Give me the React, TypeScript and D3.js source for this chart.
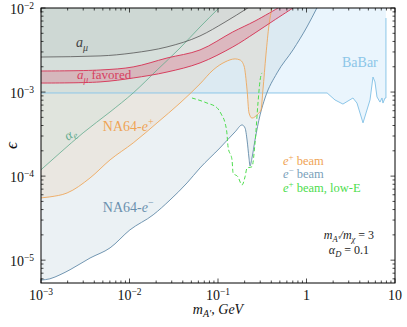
import * as d3 from "d3";

type Pt = [number, number];

// curves as [m_A' (GeV), epsilon]
const babar: Pt[] = [
  [1e-3, 9.75e-4], [1.71, 9.75e-4], [2.1, 8.05e-4], [2.58, 7.2e-4], [3.35, 8.5e-4],
  [3.72, 7.4e-4], [4.35, 4.3e-4], [5.22, 8.05e-4], [5.64, 1.51e-3], [5.94, 1.32e-3],
  [6.26, 8.75e-4], [6.77, 7.6e-4], [7.13, 8.5e-4], [7.31, 7.4e-4], [7.71, 8.5e-4],
  [7.9, 8.5e-4], [7.9, 7.6e-3],
];
const na64Electron: Pt[] = [
  [1e-3, 5.8e-6], [1.26e-3, 6.0e-6], [1.64e-3, 6.7e-6], [2.13e-3, 7.7e-6], [3.58e-3, 1.06e-5],
  [6.03e-3, 1.4e-5], [1.01e-2, 2.29e-5], [1.85e-2, 3.46e-5], [2.87e-2, 5.2e-5], [4.47e-2, 8.3e-5],
  [6.26e-2, 1.25e-4], [0.105, 2.16e-4], [0.156, 3.36e-4], [0.187, 4.06e-4], [0.202, 3.74e-4],
  [0.213, 2.69e-4], [0.224, 1.64e-4], [0.23, 1.32e-4], [0.242, 1.64e-4], [0.262, 2.69e-4],
  [0.299, 5.35e-4], [0.34, 8.5e-4], [0.465, 1.69e-3], [0.703, 3.17e-3], [1.01, 5.94e-3], [1.31, 1e-2],
];
const na64Positron: Pt[] = [
  [1e-3, 5.5e-5], [1.26e-3, 5.66e-5], [1.97e-3, 6.3e-5], [3.58e-3, 9.5e-5], [6.03e-3, 1.56e-4],
  [1.1e-2, 2.48e-4], [2.05e-2, 4.3e-4], [3.72e-2, 7.4e-4], [6.26e-2, 1.25e-3], [8.8e-2, 1.83e-3],
  [0.12, 2.28e-3], [0.156, 2.48e-3], [0.177, 2.41e-3], [0.197, 2.04e-3], [0.213, 1.06e-3],
  [0.224, 5.65e-4], [0.242, 4.9e-4], [0.283, 5.5e-4], [0.306, 6.1e-4], [0.322, 1.06e-3],
  [0.348, 2.76e-3], [0.377, 6.28e-3], [0.407, 1e-2],
];
const positronLowE: Pt[] = [
  [0.0508, 8.5e-4], [0.0752, 7.4e-4], [0.0975, 6.5e-4], [0.11, 5.35e-4], [0.12, 4.3e-4],
  [0.126, 3.27e-4], [0.13, 2.22e-4], [0.144, 1.56e-4], [0.148, 1.09e-4], [0.168, 9.8e-5],
  [0.187, 7.85e-5], [0.202, 9.8e-5], [0.213, 1.25e-4], [0.242, 1.29e-4], [0.262, 2.48e-4],
  [0.283, 7.4e-4], [0.299, 1.39e-3], [0.314, 1.69e-3],
];
const alphaE: Pt[] = [
  [1e-3, 1.19e-4], [1.64e-3, 1.89e-4], [2.99e-3, 3.27e-4], [6.03e-3, 5.8e-4], [1.1e-2, 9.75e-4],
  [2.05e-2, 1.83e-3], [3.72e-2, 3.34e-3], [6.26e-2, 5.94e-3], [0.1025, 1e-2],
];
const aMu: Pt[] = [
  [1e-3, 2.61e-3], [4.65e-3, 2.69e-3], [1.1e-2, 2.92e-3], [2.65e-2, 3.44e-3], [6.26e-2, 4.65e-3],
  [0.12, 6.8e-3], [0.217, 1e-2],
];
const aMuUpper: Pt[] = [
  [1e-3, 1.78e-3], [4.65e-3, 1.83e-3], [1.1e-2, 1.99e-3], [2.65e-2, 2.54e-3], [6.26e-2, 3.17e-3],
  [0.147, 5.19e-3], [0.262, 7.0e-3], [0.477, 1e-2],
];
const aMuLower: Pt[] = [
  [1e-3, 1.28e-3], [4.65e-3, 1.32e-3], [1.1e-2, 1.47e-3], [2.65e-2, 1.73e-3], [6.26e-2, 2.22e-3],
  [0.147, 3.44e-3], [0.262, 5.05e-3], [0.418, 7.0e-3], [0.703, 1e-2],
];

const xTickLabels = [
  { v: 1e-3, base: "10", exp: "−3" },
  { v: 1e-2, base: "10", exp: "−2" },
  { v: 1e-1, base: "10", exp: "−1" },
  { v: 1, base: "1", exp: "" },
  { v: 10, base: "10", exp: "" },
];
const yTickLabels = [
  { v: 1e-2, exp: "−2" },
  { v: 1e-3, exp: "−3" },
  { v: 1e-4, exp: "−4" },
  { v: 1e-5, exp: "−5" },
];

const W = 407;
const H = 327;
const left = 41, right = 395, top = 8, bottom = 283;
const font = "'Liberation Serif', 'DejaVu Serif', serif";

export default function App() {
  const x = d3.scaleLog().domain([1e-3, 10]).range([left, right]);
  const y = d3.scaleLog().domain([5.35e-6, 1e-2]).range([bottom, top]);

  const line = d3.line<Pt>().x((d) => x(d[0])).y((d) => y(d[1])).curve(d3.curveMonotoneX);
  const lineLin = d3.line<Pt>().x((d) => x(d[0])).y((d) => y(d[1]));
  const above = d3.area<Pt>().x((d) => x(d[0])).y0(top).y1((d) => y(d[1])).curve(d3.curveMonotoneX);
  const aboveLin = d3.area<Pt>().x((d) => x(d[0])).y0(top).y1((d) => y(d[1]));
  const cr = d3.line<Pt>().x((d) => x(d[0])).y((d) => y(d[1])).curve(d3.curveCatmullRom.alpha(0.5));
  const band = cr(aMuUpper) + "L" + (cr([...aMuLower].reverse()) as string).slice(1) + "Z";

  const isMajor = (t: number) => Math.abs(Math.log10(t) - Math.round(Math.log10(t))) < 1e-6;
  const xt = x.ticks();
  const yt = y.ticks();

  const red = "#d6405f";
  const orange = "#efa455";
  const blue = "#5a84a4";
  const sky = "#8cc6e8";
  const teal = "#62ab8d";
  const lime = "#4ddd4d";

  return (
    <svg width={W} height={H} style={{ position: "absolute", left: 0, top: 0 }} fontFamily={font}>
      <defs>
        <clipPath id="plot">
          <rect x={left} y={top} width={right - left} height={bottom - top} />
        </clipPath>
      </defs>
      <rect width={W} height={H} fill="#fff" />
      <g clipPath="url(#plot)">
        <path d={aboveLin(babar) ?? ""} fill="#d6ebfb" fillOpacity={0.5} />
        <path d={above(na64Electron) ?? ""} fill="#b8cdd9" fillOpacity={0.28} />
        <path d={above(na64Positron) ?? ""} fill="#ebbe8c" fillOpacity={0.18} />
        <path d={above(alphaE) ?? ""} fill="#aad7c8" fillOpacity={0.15} />
        <path d={above(aMu) ?? ""} fill="#78827f" fillOpacity={0.07} />
        <path d={band} fill={red} fillOpacity={0.25} />

        <path d={lineLin(babar) ?? ""} fill="none" stroke={sky} strokeWidth={1} />
        <path d={line(na64Electron) ?? ""} fill="none" stroke={blue} strokeWidth={0.85} />
        <path d={line(na64Positron) ?? ""} fill="none" stroke={orange} strokeWidth={0.85} />
        <path d={line(positronLowE) ?? ""} fill="none" stroke={lime} strokeWidth={1} strokeDasharray="4,2.5" />
        <path d={line(alphaE) ?? ""} fill="none" stroke={teal} strokeWidth={0.8} />
        <path d={line(aMu) ?? ""} fill="none" stroke="#555" strokeWidth={0.8} />
        <path d={cr(aMuUpper) ?? ""} fill="none" stroke={red} strokeWidth={1} />
        <path d={cr(aMuLower) ?? ""} fill="none" stroke={red} strokeWidth={1} />
      </g>

      {/* ticks, inward on all four sides */}
      <g stroke="#000" strokeWidth={0.7}>
        {xt.map((t, i) => {
          const len = isMajor(t) ? 4.5 : 2.5;
          return (
            <g key={"x" + i}>
              <line x1={x(t)} x2={x(t)} y1={bottom} y2={bottom - len} />
              <line x1={x(t)} x2={x(t)} y1={top} y2={top + len} />
            </g>
          );
        })}
        {yt.map((t, i) => {
          const len = isMajor(t) ? 4.5 : 2.5;
          return (
            <g key={"y" + i}>
              <line x1={left} x2={left + len} y1={y(t)} y2={y(t)} />
              <line x1={right} x2={right - len} y1={y(t)} y2={y(t)} />
            </g>
          );
        })}
      </g>
      <rect x={left} y={top} width={right - left} height={bottom - top} fill="none" stroke="#000" strokeWidth={1} />

      {/* tick labels */}
      <g fontSize={14} fill="#111">
        {xTickLabels.map((d) => (
          <text key={d.v} x={x(d.v)} y={300} textAnchor="middle">
            {d.base}
            {d.exp && <tspan fontSize={9.5} dy={-5}>{d.exp}</tspan>}
          </text>
        ))}
        {yTickLabels.map((d) => (
          <text key={d.v} x={34} y={y(d.v) + 5.5} textAnchor="end">
            10<tspan fontSize={9.5} dy={-5}>{d.exp}</tspan>
          </text>
        ))}
      </g>

      {/* axis titles */}
      <text x={(left + right) / 2} y={314} textAnchor="middle" fontSize={14} fill="#111" fontStyle="italic">
        m<tspan fontSize={10} dy={3}>A′</tspan>
        <tspan dy={-3}>, GeV</tspan>
      </text>
      <text transform={`translate(17,${(top + bottom) / 2}) rotate(-90)`} textAnchor="middle" fontSize={17} fill="#111" fontStyle="italic">
        ϵ
      </text>

      {/* annotations */}
      <text x={x(2.48e-3)} y={y(3.43e-3)} fontSize={14} fill="#444" fontStyle="italic">
        a<tspan fontSize={10} dy={4}>μ</tspan>
      </text>
      <text x={x(2.55e-3)} y={y(1.43e-3)} fontSize={13} fill={red}>
        <tspan fontStyle="italic">a</tspan>
        <tspan fontSize={9.5} fontStyle="italic" dy={4}>μ</tspan>
        <tspan dy={-4}> favored</tspan>
      </text>
      <text transform={`translate(${x(2.0e-3)},${y(2.62e-4)}) rotate(-33)`} fontSize={13.5} fill={teal} fontStyle="italic">
        α<tspan fontSize={10} dy={3}>e</tspan>
      </text>
      <text x={x(5.0e-3)} y={y(3.45e-4)} fontSize={14} fill={orange}>
        NA64-<tspan fontStyle="italic">e</tspan>
        <tspan fontSize={10} dy={-6}>+</tspan>
      </text>
      <text x={x(5.0e-3)} y={y(3.75e-5)} fontSize={14} fill="#6a90ae">
        NA64-<tspan fontStyle="italic">e</tspan>
        <tspan fontSize={10} dy={-6}>−</tspan>
      </text>
      <text x={x(2.52)} y={y(1.99e-3)} fontSize={14} fill={sky}>
        BaBar
      </text>

      <g fontSize={12.5}>
        <text x={x(0.542)} y={y(1.36e-4)} fill={orange}>
          <tspan fontStyle="italic">e</tspan>
          <tspan fontSize={9} dy={-5}>+</tspan>
          <tspan dy={5}> beam</tspan>
        </text>
        <text x={x(0.542)} y={y(9.5e-5)} fill="#7a9fba">
          <tspan fontStyle="italic">e</tspan>
          <tspan fontSize={9} dy={-5}>−</tspan>
          <tspan dy={5}> beam</tspan>
        </text>
        <text x={x(0.542)} y={y(6.5e-5)} fill={lime}>
          <tspan fontStyle="italic">e</tspan>
          <tspan fontSize={9} dy={-5}>+</tspan>
          <tspan dy={5}> beam, low-E</tspan>
        </text>
      </g>

      <g fontSize={12} fill="#222" textAnchor="middle">
        <text x={x(3.02)} y={y(1.79e-5)}>
          <tspan fontStyle="italic">m</tspan>
          <tspan fontSize={8.5} fontStyle="italic" dy={3}>A′</tspan>
          <tspan fontStyle="italic" dy={-3}>/m</tspan>
          <tspan fontSize={8.5} fontStyle="italic" dy={3}>χ</tspan>
          <tspan dy={-3}> = 3</tspan>
        </text>
        <text x={x(3.02)} y={y(1.19e-5)}>
          <tspan fontStyle="italic">α</tspan>
          <tspan fontSize={8.5} fontStyle="italic" dy={3}>D</tspan>
          <tspan dy={-3}> = 0.1</tspan>
        </text>
      </g>
    </svg>
  );
}
